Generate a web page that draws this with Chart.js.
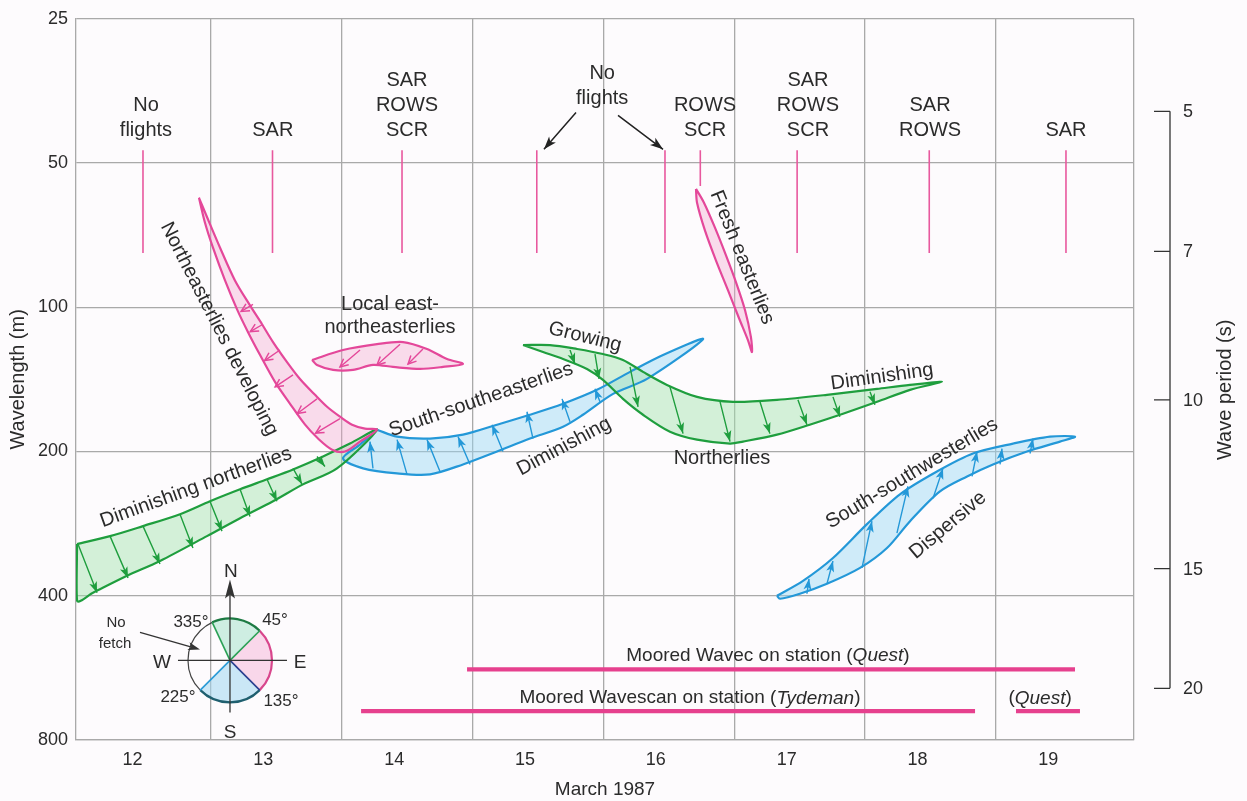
<!DOCTYPE html>
<html>
<head>
<meta charset="utf-8">
<title>Wind-sea evolution, March 1987</title>
<script src="https://cdn.jsdelivr.net/npm/chart.js@4.4.1/dist/chart.umd.min.js"></script>
<style>
  html, body { margin: 0; padding: 0; background: #fdfbfd; }
  canvas { display: block; }
</style>
</head>
<body>
<canvas id="chart" width="1247" height="801"></canvas>
<script>
// ---- axis values ----------------------------------------------------------
const dayLabels = [12, 13, 14, 15, 16, 17, 18, 19];          // March 1987
const dayBoundaries = [13, 14, 15, 16, 17, 18, 19];          // midnight lines
const wavelengthTicks = [25, 50, 100, 200, 400, 800];        // metres
const periodTicks = [5, 7, 10, 15, 20];                      // seconds
const dayRange = [11.968, 20.055];

// ---- wave systems: closed outlines as [day, wavelength m] -------------------
const neDeveloping = [
  [12.908, 59.1], [12.962, 64.1], [13.069, 75.1], [13.183, 87.9], [13.298, 99.1],
  [13.390, 108.5], [13.474, 118.2], [13.581, 130.1], [13.680, 141.1], [13.795, 152.3],
  [13.887, 161.3], [13.986, 169.2], [14.078, 175.8], [14.177, 179.2], [14.269, 180.1],
  [14.139, 190.7], [14.024, 200.0], [13.925, 198.2], [13.818, 187.9], [13.719, 175.8],
  [13.604, 159.0], [13.489, 143.1], [13.375, 125.8], [13.283, 112.7], [13.199, 101.0],
  [13.107, 87.9], [13.015, 75.1], [12.954, 66.6], [12.908, 59.1]
];
const localEne = [
  [13.772, 128.8], [14.009, 122.8], [14.269, 119.4], [14.468, 118.2], [14.651, 122.2],
  [14.804, 128.2], [14.926, 131.3], [14.773, 133.2], [14.598, 134.5], [14.391, 133.2],
  [14.238, 131.9], [14.085, 135.1], [13.933, 135.1], [13.810, 131.9], [13.772, 128.8]
];
const dimNortherlies = [
  [11.976, 311.9], [12.228, 300.3], [12.480, 286.2], [12.763, 270.3], [12.992, 254.0],
  [13.222, 239.8], [13.428, 228.6], [13.627, 218.0], [13.856, 204.8], [14.062, 192.5],
  [14.269, 180.1], [13.963, 216.9], [13.703, 234.2], [13.474, 254.0], [13.222, 275.5],
  [12.969, 300.3], [12.610, 338.4], [12.358, 363.5], [12.098, 394.3], [11.976, 409.7],
  [11.976, 311.9]
];
const sseasterlies = [
  [14.269, 180.1], [14.422, 186.2], [14.674, 187.9], [14.926, 184.4], [15.186, 175.8],
  [15.438, 167.6], [15.691, 159.0], [15.950, 148.7], [16.203, 136.4], [16.455, 125.8],
  [16.761, 116.5], [16.333, 141.1], [16.073, 151.6], [15.843, 167.6], [15.691, 177.5],
  [15.438, 187.9], [15.186, 200.0], [14.926, 212.8], [14.674, 223.2], [14.422, 222.2],
  [14.162, 216.9], [14.009, 206.8], [14.139, 193.4], [14.269, 180.1]
];
const northerlies = [
  [15.385, 119.9], [15.591, 119.9], [15.798, 122.2], [15.996, 125.2], [16.149, 128.8],
  [16.302, 136.4], [16.485, 145.2], [16.715, 153.8], [16.990, 157.5], [17.326, 156.0],
  [17.708, 152.3], [18.091, 148.0], [18.343, 145.2], [18.587, 143.1], [18.343, 148.7],
  [18.091, 157.5], [17.831, 166.8], [17.576, 175.8], [17.326, 184.4], [17.066, 190.7],
  [16.967, 192.5], [16.715, 188.9], [16.508, 181.8], [16.302, 167.6], [16.149, 155.3],
  [15.996, 141.8], [15.874, 134.5], [15.691, 128.2], [15.538, 124.0], [15.385, 119.9]
];
const freshEasterlies = [
  [16.707, 56.6], [16.715, 60.5], [16.776, 69.2], [16.860, 79.9], [16.952, 92.2],
  [17.036, 105.4], [17.104, 117.1], [17.135, 124.0], [17.127, 115.4], [17.082, 101.4],
  [17.013, 88.7], [16.937, 78.0], [16.852, 68.2], [16.768, 60.5], [16.707, 56.6]
];
const sswesterlies = [
  [17.326, 400.0], [17.525, 372.3], [17.754, 333.6], [18.014, 283.5], [18.266, 245.6],
  [18.549, 220.1], [18.824, 201.9], [19.130, 192.5], [19.413, 186.2], [19.604, 186.2],
  [19.489, 190.7], [19.237, 200.0], [18.977, 212.8], [18.779, 225.4], [18.572, 242.2],
  [18.343, 279.5], [18.167, 318.0], [17.961, 349.9], [17.708, 377.7], [17.501, 396.2],
  [17.349, 405.8], [17.326, 400.0]
];

// ---- direction arrows inside each system: [day1, wl1, day2, wl2] ------------
const neArrows = [
  [13.321, 98.6, 13.230, 102.0], [13.397, 108.5, 13.300, 112.4], [13.527, 122.8, 13.410, 129.2],
  [13.627, 138.4, 13.490, 146.6], [13.810, 155.3, 13.660, 166.6], [13.986, 170.8, 13.800, 183.0]
];
const eneArrows = [
  [14.139, 122.8, 13.986, 133.2], [14.445, 119.4, 14.269, 131.9], [14.620, 122.2, 14.506, 131.3]
];
const dimNorthArrows = [
  [11.983, 311.9, 12.129, 394.3], [12.228, 300.3, 12.366, 367.1], [12.480, 286.2, 12.610, 343.3],
  [12.763, 270.3, 12.862, 318.0], [12.992, 254.0, 13.084, 293.2], [13.222, 239.8, 13.298, 273.2],
  [13.428, 228.6, 13.504, 254.0], [13.627, 216.9, 13.696, 234.2], [13.810, 204.8, 13.871, 214.9]
];
const sseArrows = [
  [14.238, 216.9, 14.215, 190.7], [14.498, 223.2, 14.422, 188.9], [14.750, 220.1, 14.651, 188.9],
  [14.980, 212.8, 14.888, 186.2], [15.232, 200.0, 15.148, 175.8], [15.461, 187.9, 15.415, 165.2],
  [15.744, 173.3, 15.683, 155.3], [15.973, 157.5, 15.935, 148.0]
];
const northArrows = [
  [15.744, 122.8, 15.782, 131.3], [15.935, 125.2, 15.966, 141.1], [16.203, 133.2, 16.264, 161.3],
  [16.508, 146.6, 16.608, 183.5], [16.891, 157.5, 16.967, 190.7], [17.196, 157.5, 17.272, 183.5],
  [17.486, 156.0, 17.555, 175.8], [17.754, 153.8, 17.807, 169.2], [18.037, 150.1, 18.075, 159.8]
];
const sswArrows = [
  [17.555, 396.2, 17.571, 368.8], [17.708, 377.7, 17.754, 338.4], [17.976, 349.9, 18.052, 279.5],
  [18.243, 296.0, 18.327, 236.4], [18.519, 250.4, 18.595, 216.9], [18.817, 225.4, 18.855, 200.0],
  [19.031, 212.8, 19.046, 197.2], [19.260, 201.9, 19.283, 187.9]
];

// ---- aircraft flights and moored buoys --------------------------------------
const flightTimes = [12.48, 13.47, 14.46, 15.49, 16.47, 16.74, 17.48, 18.49, 19.535];
const flightTop = 47;
const flightBottoms = [77, 77, 77, 77, 77, 55.8, 77, 77, 77];
const flightLabels = [
  { day: 12.503, lines: ['No', 'flights'], base: 42.7 },
  { day: 13.472, lines: ['SAR'], base: 42.7 },
  { day: 14.498, lines: ['SAR', 'ROWS', 'SCR'], base: 42.7 },
  { day: 15.990, lines: ['No', 'flights'], base: 36.6 },
  { day: 16.776, lines: ['ROWS', 'SCR'], base: 42.7 },
  { day: 17.563, lines: ['SAR', 'ROWS', 'SCR'], base: 42.7 },
  { day: 18.496, lines: ['SAR', 'ROWS'], base: 42.7 },
  { day: 19.535, lines: ['SAR'], base: 42.7 }
];
const noFlightPointers = [
  [15.790, 39.2, 15.545, 46.8], [16.111, 39.75, 16.455, 46.8]
];
const moorings = [
  { from: 14.957, to: 19.604, wl: 569.7 },   // Wavec, Quest
  { from: 14.147, to: 18.840, wl: 696.4 },   // Wavescan, Tydeman
  { from: 19.153, to: 19.642, wl: 696.4 }    // Wavescan, Quest
];
const mooringNotes = [
  { day: 17.257, wl: 532.9, parts: [['Moored Wavec on station (', false], ['Quest', true], [')', false]] },
  { day: 16.661, wl: 654.5, parts: [['Moored Wavescan on station (', false], ['Tydeman', true], [')', false]] },
  { day: 19.337, wl: 654.5, parts: [['(', false], ['Quest', true], [')', false]] }
];

// ---- text placed along the wave systems --------------------------------------
const systemNotes = [
  { text: 'Northeasterlies developing', day: 13.062, wl: 111.0, angle: 63 },
  { text: 'Local east-', day: 14.368, wl: 98.6, angle: 0 },
  { text: 'northeasterlies', day: 14.368, wl: 110.0, angle: 0 },
  { text: 'Diminishing northerlies', day: 12.885, wl: 237.6, angle: -20 },
  { text: 'South-southeasterlies', day: 15.064, wl: 156.0, angle: -19 },
  { text: 'Diminishing', day: 15.698, wl: 195.3, angle: -28 },
  { text: 'Growing', day: 15.859, wl: 115.4, angle: 14 },
  { text: 'Northerlies', day: 16.906, wl: 206.8, angle: 0 },
  { text: 'Diminishing', day: 18.129, wl: 139.7, angle: -8 },
  { text: 'Fresh easterlies', day: 17.059, wl: 78.7, angle: 68 },
  { text: 'South-southwesterlies', day: 18.358, wl: 222.2, angle: -31 },
  { text: 'Dispersive', day: 18.633, wl: 284.9, angle: -40 }
];

// ---- fetch compass ------------------------------------------------------------
const compassAt = { day: 13.145, wl: 545.8 };
const compassBearings = [335, 45, 135, 225];

// ---------------------------------------------------------------------------
const FAMILY = '"Liberation Sans", Arial, Helvetica, sans-serif';
const INK = '#2b2b2b';
const GRID = '#a9a9a9';
const PINK = '#e4489a';
const PINK_FILL = 'rgba(240,160,200,0.35)';
const GREEN = '#1f9e3e';
const GREEN_FILL = 'rgba(160,226,170,0.45)';
const BLUE = '#2498d8';
const BLUE_FILL = 'rgba(150,215,245,0.45)';
const MOOR = '#e6408e';
const DEEP_WATER = 1.56;   // L = g T^2 / (2 pi)
const LABEL_SHIFT = 0.4;

const toPoints = pairs => pairs.map(([x, y]) => ({ x, y }));
const toSegments = list => {
  const out = [];
  list.forEach(([x1, y1, x2, y2]) => { out.push({ x: x1, y: y1 }, { x: x2, y: y2 }, { x: x2, y: null }); });
  return out;
};

function ribbon(pairs, stroke, fill) {
  return {
    data: toPoints(pairs), borderColor: stroke, backgroundColor: fill, fill: 'shape',
    borderWidth: 2.2, tension: 0.3, pointRadius: 0, borderJoinStyle: 'round'
  };
}
function arrows(list, color, head, width) {
  return {
    data: toSegments(list), borderColor: color, borderWidth: width || 1.4, fill: false,
    tension: 0, pointRadius: 0, spanGaps: false, arrowHead: head
  };
}

const flightSegs = flightTimes.map((d, i) => [d, flightTop, d, flightBottoms[i]]);

const datasets = [
  arrows(noFlightPointers, '#222222', { len: 13, half: 4.5, open: false }, 1.5),
  arrows(neArrows, PINK, { len: 8, half: 4, open: true }),
  arrows(eneArrows, PINK, { len: 8, half: 4, open: true }),
  arrows(dimNorthArrows, GREEN, { len: 11, half: 4, open: false }),
  arrows(northArrows, GREEN, { len: 11, half: 4, open: false }),
  arrows(sseArrows, BLUE, { len: 11, half: 4, open: false }),
  arrows(sswArrows, BLUE, { len: 11, half: 4, open: false }),
  arrows(flightSegs, '#e8589e', null, 1.6),
  ...moorings.map(m => ({
    data: [{ x: m.from, y: m.wl }, { x: m.to, y: m.wl }], borderColor: MOOR, borderWidth: 4.2,
    pointRadius: 0, fill: false, borderCapStyle: 'butt'
  })),
  ribbon(neDeveloping, PINK, PINK_FILL),
  ribbon(localEne, PINK, PINK_FILL),
  ribbon(freshEasterlies, PINK, PINK_FILL),
  ribbon(northerlies, GREEN, GREEN_FILL),
  ribbon(dimNortherlies, GREEN, GREEN_FILL),
  ribbon(sseasterlies, BLUE, BLUE_FILL),
  ribbon(sswesterlies, BLUE, BLUE_FILL)
];

function drawHead(ctx, x1, y1, x2, y2, color, head) {
  const ang = Math.atan2(y2 - y1, x2 - x1);
  ctx.save();
  ctx.translate(x2, y2);
  ctx.rotate(ang);
  ctx.beginPath();
  if (head.open) {
    ctx.moveTo(-head.len, -head.half); ctx.lineTo(0, 0); ctx.lineTo(-head.len, head.half);
    ctx.strokeStyle = color; ctx.lineWidth = 1.5; ctx.stroke();
  } else {
    ctx.moveTo(0, 0); ctx.lineTo(-head.len, -head.half); ctx.lineTo(-head.len * 0.75, 0);
    ctx.lineTo(-head.len, head.half); ctx.closePath();
    ctx.fillStyle = color; ctx.fill();
  }
  ctx.restore();
}

const arrowHeadPlugin = {
  id: 'arrowHeads',
  afterDatasetsDraw(chart) {
    const ctx = chart.ctx;
    chart.data.datasets.forEach((ds, i) => {
      if (!ds.arrowHead) return;
      const pts = chart.getDatasetMeta(i).data;
      for (let k = 0; k + 1 < pts.length; k += 3) {
        drawHead(ctx, pts[k].x, pts[k].y, pts[k + 1].x, pts[k + 1].y, ds.borderColor, ds.arrowHead);
      }
    });
  }
};

function textAt(ctx, text, x, y, angle) {
  ctx.save();
  ctx.translate(x, y);
  ctx.rotate(angle * Math.PI / 180);
  ctx.fillText(text, 0, 0);
  ctx.restore();
}

const notesPlugin = {
  id: 'notes',
  afterDatasetsDraw(chart) {
    const { ctx, scales: { x, y } } = chart;
    ctx.save();
    ctx.fillStyle = INK;
    ctx.textAlign = 'center';
    ctx.textBaseline = 'middle';

    // flight schedule
    ctx.font = `20px ${FAMILY}`;
    flightLabels.forEach(f => {
      const cx = x.getPixelForValue(f.day);
      const by = y.getPixelForValue(f.base);
      f.lines.forEach((t, k) => ctx.fillText(t, cx, by - (f.lines.length - 1 - k) * 25));
    });

    // wave system names
    systemNotes.forEach(n => textAt(ctx, n.text, x.getPixelForValue(n.day), y.getPixelForValue(n.wl), n.angle));

    // buoy captions with italic ship names
    mooringNotes.forEach(n => {
      const fonts = n.parts.map(([, it]) => `${it ? 'italic ' : ''}19px ${FAMILY}`);
      const widths = n.parts.map(([t], i) => { ctx.font = fonts[i]; return ctx.measureText(t).width; });
      const total = widths.reduce((a, b) => a + b, 0);
      let cx = x.getPixelForValue(n.day) - total / 2;
      const cy = y.getPixelForValue(n.wl);
      ctx.textAlign = 'left';
      n.parts.forEach(([t], i) => { ctx.font = fonts[i]; ctx.fillText(t, cx, cy); cx += widths[i]; });
      ctx.textAlign = 'center';
    });
    ctx.restore();

    drawCompass(chart);
  }
};

function drawCompass(chart) {
  const { ctx, scales: { x, y } } = chart;
  const cx = x.getPixelForValue(compassAt.day);
  const cy = y.getPixelForValue(compassAt.wl);
  const r = 42;
  const rad = b => (b - 90) * Math.PI / 180;
  const [nw, ne, se, sw] = compassBearings;
  const sectors = [
    { a: nw, b: ne, fill: 'rgba(160,225,200,0.5)', arc: '#1d7a43' },
    { a: ne, b: se, fill: 'rgba(245,180,215,0.5)', arc: '#d8468c' },
    { a: se, b: sw, fill: 'rgba(160,215,240,0.55)', arc: '#1f5f6f' },
    { a: sw, b: nw, fill: null, arc: '#444444' }
  ];
  ctx.save();
  sectors.forEach(s => {
    if (!s.fill) return;
    ctx.beginPath(); ctx.moveTo(cx, cy); ctx.arc(cx, cy, r, rad(s.a), rad(s.b)); ctx.closePath();
    ctx.fillStyle = s.fill; ctx.fill();
  });
  sectors.forEach(s => {
    ctx.beginPath(); ctx.arc(cx, cy, r, rad(s.a), rad(s.b));
    ctx.strokeStyle = s.arc; ctx.lineWidth = s.fill ? 2.2 : 1.2; ctx.stroke();
  });
  const spokes = [[nw, '#2aa055'], [ne, '#2aa055'], [se, '#2a3f90'], [sw, '#2a9ad6']];
  spokes.forEach(([b, c]) => {
    ctx.beginPath(); ctx.moveTo(cx, cy); ctx.lineTo(cx + r * Math.cos(rad(b)), cy + r * Math.sin(rad(b)));
    ctx.strokeStyle = c; ctx.lineWidth = 1.6; ctx.stroke();
  });
  // north-south and west-east lines
  ctx.strokeStyle = '#333'; ctx.lineWidth = 1.3;
  ctx.beginPath();
  ctx.moveTo(cx, cy + 52); ctx.lineTo(cx, cy - 70);
  ctx.moveTo(cx - 52, cy); ctx.lineTo(cx + 57, cy);
  ctx.stroke();
  ctx.beginPath();
  ctx.moveTo(cx, cy - 81); ctx.lineTo(cx - 5, cy - 62); ctx.lineTo(cx, cy - 66); ctx.lineTo(cx + 5, cy - 62); ctx.closePath();
  ctx.fillStyle = '#333'; ctx.fill();

  ctx.fillStyle = INK; ctx.textAlign = 'center'; ctx.textBaseline = 'middle';
  ctx.font = `19px ${FAMILY}`;
  ctx.fillText('N', cx + 1, cy - 89);
  ctx.fillText('S', cx, cy + 72);
  ctx.fillText('W', cx - 68, cy + 2);
  ctx.fillText('E', cx + 70, cy + 2);
  ctx.font = `17px ${FAMILY}`;
  ctx.fillText(nw + '°', cx - 39, cy - 38);
  ctx.fillText(ne + '°', cx + 45, cy - 40);
  ctx.fillText(sw + '°', cx - 52, cy + 37);
  ctx.fillText(se + '°', cx + 51, cy + 41);
  ctx.font = `15px ${FAMILY}`;
  ctx.fillText('No', cx - 114, cy - 38);
  ctx.fillText('fetch', cx - 115, cy - 17);
  ctx.strokeStyle = '#333'; ctx.lineWidth = 1.3;
  ctx.beginPath(); ctx.moveTo(cx - 90, cy - 28); ctx.lineTo(cx - 34, cy - 12); ctx.stroke();
  drawHead(ctx, cx - 90, cy - 28, cx - 30, cy - 11, '#333', { len: 12, half: 4, open: false });
  ctx.restore();
}

const periodAxisPlugin = {
  id: 'periodAxis',
  afterDraw(chart) {
    const { ctx, chartArea, scales: { y } } = chart;
    const xl = chartArea.right + 36;
    const ys = periodTicks.map(t => y.getPixelForValue(DEEP_WATER * t * t));
    ctx.save();
    ctx.strokeStyle = '#333'; ctx.lineWidth = 1.3;
    ctx.beginPath();
    ctx.moveTo(xl, ys[0]); ctx.lineTo(xl, ys[ys.length - 1]);
    ys.forEach(v => { ctx.moveTo(xl - 16, v); ctx.lineTo(xl, v); });
    ctx.stroke();
    ctx.fillStyle = INK; ctx.font = `18px ${FAMILY}`;
    ctx.textAlign = 'left'; ctx.textBaseline = 'middle';
    periodTicks.forEach((t, i) => ctx.fillText(String(t), xl + 13, ys[i] + 1));
    ctx.font = `20px ${FAMILY}`; ctx.textAlign = 'center';
    textAt(ctx, 'Wave period (s)', xl + 55, (ys[0] + ys[ys.length - 1]) / 2 - 10, -90);
    ctx.restore();
  }
};

const labelTicks = new Map(dayLabels.map(d => [d + LABEL_SHIFT, String(d)]));

new Chart(document.getElementById('chart'), {
  type: 'line',
  data: { datasets },
  options: {
    responsive: false,
    animation: false,
    devicePixelRatio: 1,
    layout: { padding: { top: 15, right: 113, left: 0, bottom: 0 } },
    plugins: {
      legend: { display: false },
      tooltip: { enabled: false },
      filler: { drawTime: 'beforeDatasetsDraw' }
    },
    scales: {
      x: {
        type: 'linear',
        min: dayRange[0], max: dayRange[1],
        afterBuildTicks: s => {
          s.ticks = [...dayBoundaries, dayRange[1], ...labelTicks.keys()].map(v => ({ value: v }));
        },
        afterFit: s => { s.height = 61; },
        grid: {
          color: c => (c.tick && labelTicks.has(c.tick.value)) ? 'rgba(0,0,0,0)' : GRID,
          lineWidth: 1.3, drawTicks: false
        },
        border: { color: GRID, width: 1.3 },
        ticks: {
          autoSkip: false, maxRotation: 0, padding: 9, color: INK,
          font: { family: FAMILY, size: 18 },
          callback: v => labelTicks.get(v) || ''
        },
        title: { display: true, text: 'March 1987', color: INK, font: { family: FAMILY, size: 19 }, padding: { top: 0, bottom: 0 } }
      },
      y: {
        type: 'logarithmic',
        reverse: true,
        min: wavelengthTicks[0], max: wavelengthTicks[wavelengthTicks.length - 1],
        afterBuildTicks: s => { s.ticks = wavelengthTicks.map(v => ({ value: v })); },
        afterFit: s => { s.width = 76; },
        grid: { color: GRID, lineWidth: 1.3, drawTicks: false },
        border: { color: GRID, width: 1.3 },
        ticks: { padding: 8, color: INK, font: { family: FAMILY, size: 18 }, callback: v => String(v) },
        title: { display: true, text: 'Wavelength (m)', color: INK, font: { family: FAMILY, size: 20 }, padding: { top: 6, bottom: 0 } }
      }
    }
  },
  plugins: [arrowHeadPlugin, notesPlugin, periodAxisPlugin]
});
</script>
</body>
</html>
